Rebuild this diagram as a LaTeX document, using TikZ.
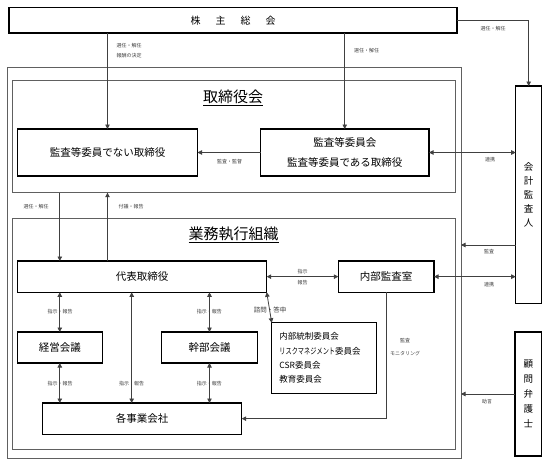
\documentclass[tikz,border=0pt]{standalone}
\usepackage{fontspec}
\setmainfont{Noto Sans CJK JP}
\usetikzlibrary{arrows.meta,calc}
\definecolor{ln}{HTML}{404040}
\definecolor{fr}{HTML}{606060}
\begin{document}
\begin{tikzpicture}[x=1pt,y=-1pt,
 box/.style={draw=black,line width=1.1pt,inner sep=0pt,outer sep=0pt,align=center,font=\fontsize{10.5}{12}\selectfont},
 frame/.style={draw=fr,line width=0.9pt,inner sep=0pt,outer sep=0pt},
 conn/.style={draw=ln,line width=0.8pt},
 arr/.style={conn,-{Triangle[length=4.5pt,width=4.5pt]}},
 darr/.style={conn,{Triangle[length=4.5pt,width=4.5pt]}-{Triangle[length=4.5pt,width=4.5pt]}},
 lbl/.style={inner sep=0pt,text=ln,font=\fontsize{5}{6}\selectfont},
 ttl/.style={inner sep=0pt,font=\fontsize{15}{18}\selectfont}]
\useasboundingbox (0,0) rectangle (548,464);
\fill[white] (0,0) rectangle (548,464);

% frames
\node[frame, minimum width=454pt, minimum height=391pt] (outer) at (234,262.5) {};
\node[frame, minimum width=443pt, minimum height=112.7pt] (torikai) at (233.5,136.35) {};
\node[frame, minimum width=443pt, minimum height=231pt] (gyomu) at (233.5,333.5) {};
\node[ttl] (t1) at (233,98.3) {\underline{取締役会}};
\node[ttl] (t2) at (233.5,235) {\underline{業務執行組織}};

% boxes
\node[box, line width=1.3pt, minimum width=448pt, minimum height=25.5pt, font=\fontsize{10}{12}\selectfont] (soukai) at (233,20.25) {株\hspace{15pt}主\hspace{15pt}総\hspace{15pt}会};
\node[box, minimum width=180pt, minimum height=47pt] (nontori) at (107.5,152.5) {監査等委員でない取締役};
\node[box, minimum width=168.5pt, minimum height=47pt, font=\fontsize{10.5}{19.4}\selectfont] (kansa) at (344.75,152.5) {監査等委員会\\監査等委員である取締役};
\node[box, minimum width=249.4pt, minimum height=31.3pt] (daihyo) at (142,276.65) {代表取締役};
\node[box, minimum width=95.7pt, minimum height=31.3pt] (naibu) at (386.15,276.65) {内部監査室};
\node[box, minimum width=85pt, minimum height=31pt] (keiei) at (59.8,347.5) {経営会議};
\node[box, minimum width=95.6pt, minimum height=31pt] (kanbu) at (209.5,347.5) {幹部会議};
\node[box, minimum width=199.4pt, minimum height=31.3pt] (kaku) at (142,418.65) {各事業会社};
\node[box, line width=0.9pt, minimum width=104.3pt, minimum height=70.6pt, text width=89pt, align=left, font=\fontsize{8.5}{14.3}\selectfont] (iinkai) at (323.85,358) {内部統制委員会\\\scalebox{0.73}[1]{リスクマネジメント}委員会\\CSR委員会\\教育委員会};
\node[box, minimum width=26pt, minimum height=217.3pt, font=\fontsize{9.5}{14}\selectfont] (kaikei) at (528.7,194.65) {会\\計\\監\\査\\人};
\node[box, minimum width=26.7pt, minimum height=124pt, font=\fontsize{9.5}{15}\selectfont] (komon) at (528.35,394) {顧\\問\\弁\\護\\士};

\coordinate (mx) at (131.7,0);
\coordinate (ky) at (0,245);

% connectors
\draw[arr] (soukai.east) -| (kaikei.north);
\draw[arr] (nontori.north |- soukai.south) -- (nontori.north);
\draw[arr] (kansa.north |- soukai.south) -- (kansa.north);
\draw[arr] (kansa.west) -- (nontori.east);
\draw[darr] (kansa.east) -- (kansa.east -| kaikei.west);
\draw[arr] (torikai.south -| keiei.north) -- (daihyo.north -| keiei.north);
\draw[arr] (daihyo.north -| nontori.north) -- (torikai.south -| nontori.north);
\draw[darr] (daihyo.south -| keiei.north) -- (keiei.north);
\draw[darr] (daihyo.south -| kanbu.north) -- (kanbu.north);
\draw[darr] (daihyo.south -| mx) -- (kaku.north -| mx);
\draw[darr] (keiei.south) -- (kaku.north -| keiei.south);
\draw[darr] (kanbu.south) -- (kaku.north -| kanbu.south);
\draw[darr] (daihyo.east) -- (naibu.west);
\draw[darr] (naibu.east) -- (naibu.east -| kaikei.west);
\draw[arr] (kaikei.west |- ky) -- (outer.east |- ky);
\draw[arr] (komon.west) -- (komon.west -| outer.east);
\draw[arr] (naibu.south) |- (kaku.east);
\draw[darr] (daihyo.south east) -- (iinkai.north west);

% labels
\node[lbl] (l1) at (493,29) {選任・解任};
\node[lbl, anchor=west] (l2) at (116.5,45.7) {選任・解任};
\node[lbl, anchor=west] (l3) at (116.5,56) {報酬の決定};
\node[lbl, anchor=west] (l4) at (354,51) {選任・解任};
\node[lbl] (l5) at (229.7,162) {監査・監督};
\node[lbl] (l6) at (490,160) {連携};
\node[lbl] (l7) at (36,206.5) {選任・解任};
\node[lbl] (l8) at (131,206.5) {付議・報告};
\node[lbl] (l9) at (302.7,271.7) {指示};
\node[lbl] (l10) at (302.7,282.3) {報告};
\node[lbl] (l11) at (489,251.7) {監査};
\node[lbl] (l12) at (489,285) {連携};
\node[lbl] (l13) at (60,311.7) {指示・報告};
\node[lbl] (l14) at (209.3,311.7) {指示・報告};
\node[lbl] (l15) at (60,383.3) {指示・報告};
\node[lbl] (l16) at (131.7,383.3) {指示・報告};
\node[lbl] (l17) at (209.3,383.3) {指示・報告};
\node[lbl, font=\fontsize{6.5}{8}\selectfont] (l18) at (270,310) {諮問・答申};
\node[lbl] (l19) at (405,341) {監査};
\node[lbl] (l20) at (405,354) {モニタリング};
\node[lbl] (l21) at (487,401.7) {助言};
\end{tikzpicture}
\end{document}
